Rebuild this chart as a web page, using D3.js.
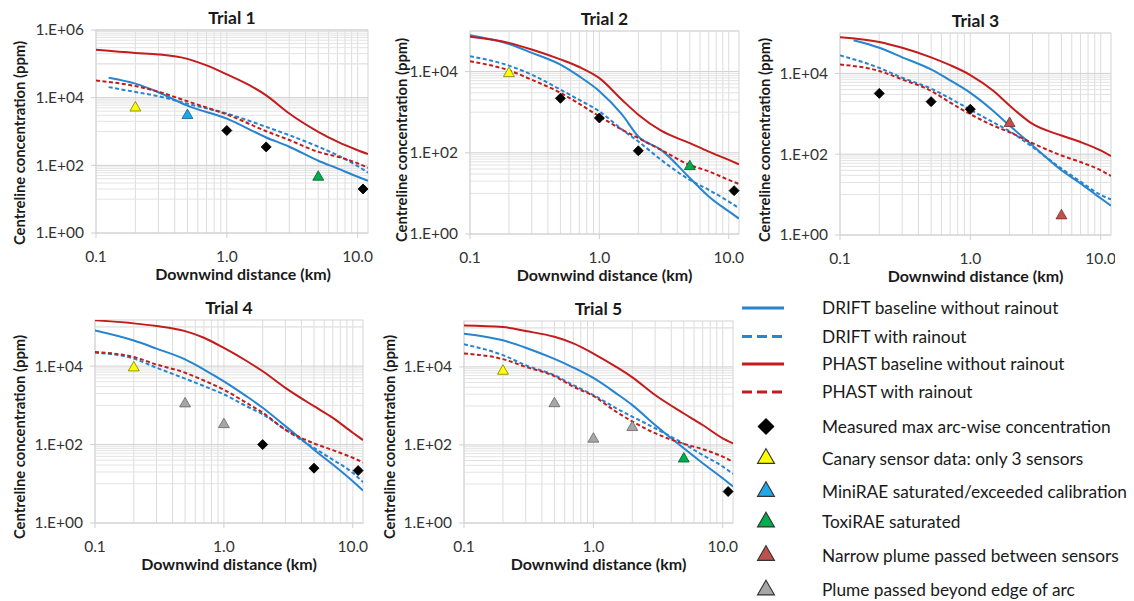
<!DOCTYPE html>
<html><head><meta charset="utf-8">
<script src="https://cdn.jsdelivr.net/npm/d3@7"></script>
<style>
body{margin:0;background:#fff;}
svg{display:block;font-family:Lato,"Open Sans",sans-serif;}
</style>
</head><body>
<svg id="c" width="1134" height="601"></svg>
<script>
// ---------------- DATA ----------------
const trialNames = ["Trial 1", "Trial 2", "Trial 3", "Trial 4", "Trial 5"];
const xTickValues = [0.1, 1, 10];
const xTickLabels = ["0.1", "1.0", "10.0"];
const yTickValues = [1, 1e2, 1e4, 1e6];
const yTickLabels = ["1.E+00", "1.E+02", "1.E+04", "1.E+06"];
const xDomain = [0.1, 12];
const yMaxes = [1e6, 1e5, 1e5, 1.5e5, 1.5e5];
const xTitle = "Downwind distance (km)";
const yTitle = "Centreline concentration (ppm)";

const seriesNames = ["DRIFT baseline without rainout", "DRIFT with rainout",
  "PHAST baseline without rainout", "PHAST with rainout"];
const markerNames = ["Measured max arc-wise concentration", "Canary sensor data: only 3 sensors",
  "MiniRAE saturated/exceeded calibration", "ToxiRAE saturated",
  "Narrow plume passed between sensors", "Plume passed beyond edge of arc"];

// Trial 1 [distance km, concentration ppm]
const t1DriftBase = [[0.125,3.9e4],[0.2,2.6e4],[0.3,1.45e4],[0.5,5.8e3],[1,2.4e3],[2,665],[3,355],[5,137],[7,81],[10,46],[12,35]];
const t1DriftRain = [[0.125,2.05e4],[0.2,1.47e4],[0.3,1.1e4],[0.5,6.6e3],[1,3.4e3],[2,1.37e3],[3,780],[5,355],[7,200],[10,95],[12,61]];
const t1PhastBase = [[0.1,2.6e5],[0.2,2.1e5],[0.3,1.9e5],[0.5,1.4e5],[0.7,9e4],[1,4.9e4],[1.5,2.3e4],[2,1.17e4],[3,3.4e3],[5,980],[7,500],[10,280],[12,215]];
const t1PhastRain = [[0.1,3.2e4],[0.2,2.2e4],[0.3,1.5e4],[0.5,7.8e3],[0.7,5.1e3],[1,3.2e3],[2,1.02e3],[3,560],[5,250],[7,180],[10,115],[12,85]];
// Trial 2
const t2DriftBase = [[0.1,7.9e4],[0.2,4.8e4],[0.3,2.9e4],[0.5,1.48e4],[0.7,7.6e3],[1,3.3e3],[1.5,870],[2,252],[3,118],[5,24],[7,8.4],[10,3.6],[12,2.4]];
const t2DriftRain = [[0.1,2.4e4],[0.2,1.4e4],[0.3,8.4e3],[0.5,3.6e3],[0.7,2.0e3],[1,1.05e3],[1.5,370],[2,190],[3,67],[5,21.5],[7,12.2],[10,6.3],[12,4.3]];
const t2PhastBase = [[0.1,7.2e4],[0.2,5.1e4],[0.3,3.5e4],[0.5,2.0e4],[0.7,1.3e4],[1,6.9e3],[1.5,2e3],[2,870],[3,350],[5,173],[7,107],[10,67],[12,52]];
const t2PhastRain = [[0.1,1.8e4],[0.2,1.07e4],[0.3,6.3e3],[0.5,3.0e3],[0.7,1.6e3],[1,790],[1.5,370],[2,230],[3,118],[5,50],[7,35],[10,21.5],[12,17]];
// Trial 3
const t3DriftBase = [[0.127,6.6e4],[0.2,4.3e4],[0.3,2.5e4],[0.5,1.25e4],[0.7,6.7e3],[1,3.3e3],[1.5,1.18e3],[2,510],[3,165],[5,40],[7,19],[10,8.1],[12,5.3]];
const t3DriftRain = [[0.1,2.8e4],[0.2,1.37e4],[0.3,7.8e3],[0.5,4.2e3],[0.7,2.4e3],[1,1.26e3],[1.5,615],[2,370],[3,150],[5,44],[7,21],[10,9.8],[12,7.6]];
const t3PhastBase = [[0.1,7.9e4],[0.2,6e4],[0.3,4.3e4],[0.5,2.5e4],[0.7,1.6e4],[1,9.1e3],[1.5,3.7e3],[2,1.6e3],[3,560],[5,290],[7,200],[10,124],[12,90]];
const t3PhastRain = [[0.1,1.66e4],[0.2,1.15e4],[0.3,7.1e3],[0.5,3.7e3],[0.7,1.9e3],[1,980],[1.5,510],[2,350],[3,187],[5,93],[7,64],[10,40],[12,29]];
// Trial 4
const t4DriftBase = [[0.1,8.1e4],[0.2,4.5e4],[0.3,2.8e4],[0.5,1.48e4],[0.7,8.2e3],[1,4.1e3],[1.5,1.7e3],[2,870],[3,295],[5,74],[7,31],[10,11.6],[12,6.7]];
const t4DriftRain = [[0.1,2.2e4],[0.2,1.55e4],[0.3,9.1e3],[0.5,4.8e3],[0.7,3.1e3],[1,1.9e3],[1.5,950],[2,590],[3,240],[5,82],[7,41],[10,19],[12,11]];
const t4PhastBase = [[0.1,1.47e5],[0.2,1.23e5],[0.3,1.05e5],[0.5,7.8e4],[0.7,5.3e4],[1,2.9e4],[1.5,1.35e4],[2,7.4e3],[3,2.8e3],[5,950],[7,480],[10,200],[12,130]];
const t4PhastRain = [[0.1,2.3e4],[0.2,1.7e4],[0.3,1.1e4],[0.5,6.8e3],[0.7,4.3e3],[1,2.5e3],[1.5,1.15e3],[2,650],[3,240],[5,107],[7,72],[10,46],[12,35]];
// Trial 5
const t5DriftBase = [[0.1,7.1e4],[0.2,4.8e4],[0.3,3.1e4],[0.5,1.6e4],[0.7,9.6e3],[1,5.2e3],[1.5,2.1e3],[2,1.05e3],[3,325],[5,82],[7,34],[10,14],[12,8.6]];
const t5DriftRain = [[0.1,3.8e4],[0.2,2e4],[0.3,1.1e4],[0.5,6.1e3],[0.7,3.4e3],[1,1.9e3],[1.5,870],[2,530],[3,268],[5,107],[7,55],[10,28],[12,18]];
const t5PhastBase = [[0.1,1.15e5],[0.2,1.05e5],[0.3,8.3e4],[0.5,5.9e4],[0.7,4e4],[1,2.2e4],[1.5,1e4],[2,5.4e3],[3,1.9e3],[5,640],[7,325],[10,148],[12,110]];
const t5PhastRain = [[0.1,2.2e4],[0.2,1.58e4],[0.3,1e4],[0.5,5.8e3],[0.7,3.1e3],[1,1.8e3],[1.5,710],[2,400],[3,200],[5,107],[7,78],[10,50],[12,37]];

// Markers per trial: [distance, ppm]
const measured = [[[1,1070],[2,350],[11,20]], [[0.5,2200],[1,720],[2,112],[11,11.7]], [[0.2,3200],[0.5,2000],[1,1300]], [[2,100],[5,25],[11,21.7]], [[11,6.4]]];
const canary   = [[[0.2,5000]], [[0.2,9000]], [], [[0.2,9100]], [[0.2,7800]]];
const miniRAE  = [[[0.5,3000]], [], [], [], []];
const toxiRAE  = [[[5,45]], [[5,46]], [], [], [[5,44]]];
const narrow   = [[], [], [[2,580],[5,3.0]], [], []];
const beyond   = [[], [], [], [[0.5,1100],[1,325]], [[0.5,1150],[1,142],[2,282]]];

const trialLines = [
  [t1DriftBase, t1DriftRain, t1PhastBase, t1PhastRain],
  [t2DriftBase, t2DriftRain, t2PhastBase, t2PhastRain],
  [t3DriftBase, t3DriftRain, t3PhastBase, t3PhastRain],
  [t4DriftBase, t4DriftRain, t4PhastBase, t4PhastRain],
  [t5DriftBase, t5DriftRain, t5PhastBase, t5PhastRain]
];
const markerSets = [measured, canary, miniRAE, toxiRAE, narrow, beyond];

// ---------------- STYLE / LAYOUT ----------------
const BLUE = "#2684d0", RED = "#c41c1c";
const lineStyles = [
  {color: BLUE, dash: null}, {color: BLUE, dash: "4,2.5"},
  {color: RED, dash: null}, {color: RED, dash: "4,2.5"}
];
const markerStyles = [
  {type: "diamond", fill: "#000", stroke: "#000"},
  {type: "tri", fill: "#ffff00", stroke: "#7a7a00"},
  {type: "tri", fill: "#1ea8ea", stroke: "#0b5f8a"},
  {type: "tri", fill: "#00ac4e", stroke: "#00602a"},
  {type: "tri", fill: "#c0504d", stroke: "#7a2a28"},
  {type: "tri", fill: "#a6a6a6", stroke: "#666"}
];
const layout = [
  {left: 96,  top: 30,  right: 368,  bottom: 233, clip: [0, 376],    yTitleX: 20,  yTitleY: 143, xTitleDx: 11},
  {left: 470, top: 31,  right: 739,  bottom: 234, clip: [378, 745],  yTitleX: 402, yTitleY: 140, xTitleDx: 0},
  {left: 840, top: 33,  right: 1111, bottom: 235, clip: [748, 1115], yTitleX: 765, yTitleY: 140, xTitleDx: 0},
  {left: 95,  top: 320, right: 363,  bottom: 523, clip: [0, 376],    yTitleX: 20,  yTitleY: 437, xTitleDx: 0},
  {left: 464, top: 321, right: 733,  bottom: 523, clip: [377, 740],  yTitleX: 390, yTitleY: 437, xTitleDx: 0}
];

const svg = d3.select("#c");
const defs = svg.append("defs");

function markerPath(type, area) {
  if (type === "diamond") return d3.symbol(d3.symbolSquare, area)();
  return d3.symbol(d3.symbolTriangle, area)();
}

layout.forEach((L, i) => {
  const yMax = yMaxes[i];
  const x = d3.scaleLog().domain(xDomain).range([L.left, L.right]);
  const y = d3.scaleLog().domain([1, yMax]).range([L.bottom, L.top]);

  defs.append("clipPath").attr("id", "obj" + i).append("rect")
    .attr("x", L.clip[0]).attr("y", L.top - 40).attr("width", L.clip[1] - L.clip[0]).attr("height", 300);
  defs.append("clipPath").attr("id", "plot" + i).append("rect")
    .attr("x", L.left).attr("y", L.top).attr("width", L.right - L.left).attr("height", L.bottom - L.top);

  const g = svg.append("g").attr("clip-path", `url(#obj${i})`);

  // vertical gridlines
  const vGrid = [];
  for (let d = -1; d <= 1; d++) for (let k = 1; k <= 9; k++) {
    const v = k * Math.pow(10, d);
    if (v >= xDomain[0] - 1e-9 && v <= xDomain[1]) vGrid.push(v);
  }
  g.append("g").selectAll("line").data(vGrid).join("line")
    .attr("x1", d => x(d)).attr("x2", d => x(d))
    .attr("y1", L.top).attr("y2", L.bottom)
    .attr("stroke", "#dcdcdc").attr("stroke-width", 1);

  // horizontal minor gridlines (Excel style: k * major/10 below each major)
  const hMinor = [];
  yTickValues.forEach(m => {
    if (m <= 1) return;
    for (let k = 1; k <= 9; k++) {
      const v = k * m / 10;
      if (v <= yMax && v > 1) hMinor.push(v);
    }
  });
  if (yMax > 1e5) hMinor.push(1e5);
  g.append("g").selectAll("line").data(hMinor).join("line")
    .attr("x1", L.left).attr("x2", L.right)
    .attr("y1", d => y(d)).attr("y2", d => y(d))
    .attr("stroke", "#e3e3e3").attr("stroke-width", 1);

  // major horizontal gridlines
  const yT = yTickValues.filter(v => v <= yMax);
  g.append("g").selectAll("line").data(yT).join("line")
    .attr("x1", L.left - 5).attr("x2", L.right)
    .attr("y1", d => y(d)).attr("y2", d => y(d))
    .attr("stroke", "#cfcfcf").attr("stroke-width", 1);

  // plot border
  g.append("rect").attr("x", L.left).attr("y", L.top)
    .attr("width", L.right - L.left).attr("height", L.bottom - L.top)
    .attr("fill", "none").attr("stroke", "#d4d4d4").attr("stroke-width", 1);
  // x ticks
  g.append("g").selectAll("line").data(xTickValues).join("line")
    .attr("x1", d => x(d)).attr("x2", d => x(d))
    .attr("y1", L.bottom).attr("y2", L.bottom + 5)
    .attr("stroke", "#cfcfcf");

  // y tick labels
  g.append("g").selectAll("text").data(yT).join("text")
    .attr("x", L.left - 12).attr("y", d => y(d)).attr("dy", "0.35em")
    .attr("text-anchor", "end").attr("font-size", 15.5).attr("fill", "#333")
    .text(d => yTickLabels[yTickValues.indexOf(d)]);
  // x tick labels
  g.append("g").selectAll("text").data(xTickValues).join("text")
    .attr("x", d => x(d)).attr("y", L.bottom + 29)
    .attr("text-anchor", "middle").attr("font-size", 15.5).attr("fill", "#333")
    .text((d, j) => xTickLabels[j]);

  // titles
  g.append("text").attr("x", (L.left + L.right) / 2).attr("y", L.top - 6)
    .attr("text-anchor", "middle").attr("font-size", 17.5).attr("font-weight", "bold").attr("fill", "#1a1a1a")
    .text(trialNames[i]);
  g.append("text").attr("x", (L.left + L.right) / 2 + L.xTitleDx).attr("y", L.bottom + 47)
    .attr("text-anchor", "middle").attr("font-size", 16).attr("font-weight", "bold").attr("fill", "#1a1a1a")
    .text(xTitle);
  g.append("text").attr("transform", `translate(${L.yTitleX},${L.yTitleY}) rotate(-90)`)
    .attr("dy", "0.35em")
    .attr("text-anchor", "middle").attr("font-size", 14.8).attr("font-weight", "bold").attr("fill", "#1a1a1a")
    .text(yTitle);

  // lines
  const pg = g.append("g").attr("clip-path", `url(#plot${i})`);
  const line = d3.line().x(d => x(d[0])).y(d => y(d[1])).curve(d3.curveMonotoneX);
  trialLines[i].forEach((s, j) => {
    pg.append("path").datum(s).attr("d", line)
      .attr("fill", "none").attr("stroke", lineStyles[j].color).attr("stroke-width", 2)
      .attr("stroke-dasharray", lineStyles[j].dash);
  });

  // markers
  markerSets.forEach((set, j) => {
    const st = markerStyles[j];
    g.append("g").selectAll("path").data(set[i]).join("path")
      .attr("d", markerPath(st.type, st.type === "diamond" ? 50 : 52))
      .attr("transform", d => `translate(${x(d[0])},${y(d[1])})` + (st.type === "diamond" ? " rotate(45)" : ""))
      .attr("fill", st.fill).attr("stroke", st.stroke).attr("stroke-width", 0.8);
  });
});

// ---------------- LEGEND ----------------
const lg = svg.append("g");
const lineRowY = [308, 336.5, 364, 392];
const markerRowY = [426.5, 458.5, 491.5, 522, 555.5, 590];
seriesNames.forEach((name, j) => {
  lg.append("line").attr("x1", 742).attr("x2", 784)
    .attr("y1", lineRowY[j]).attr("y2", lineRowY[j])
    .attr("stroke", lineStyles[j].color).attr("stroke-width", 3)
    .attr("stroke-dasharray", lineStyles[j].dash ? "10,5" : null);
  lg.append("text").attr("x", 822).attr("y", lineRowY[j]).attr("dy", "0.35em")
    .attr("font-size", 17.3).attr("fill", "#1a1a1a").text(name);
});
markerNames.forEach((name, j) => {
  const st = markerStyles[j];
  lg.append("path")
    .attr("d", markerPath(st.type, st.type === "diamond" ? 120 : 125))
    .attr("transform", `translate(766,${markerRowY[j]})` + (st.type === "diamond" ? " rotate(45)" : ""))
    .attr("fill", st.fill).attr("stroke", st.type === "diamond" ? "#000" : "#333").attr("stroke-width", 1.1);
  lg.append("text").attr("x", 822).attr("y", markerRowY[j]).attr("dy", "0.35em")
    .attr("font-size", 17.3).attr("fill", "#1a1a1a").text(name);
});
</script>
</body></html>
